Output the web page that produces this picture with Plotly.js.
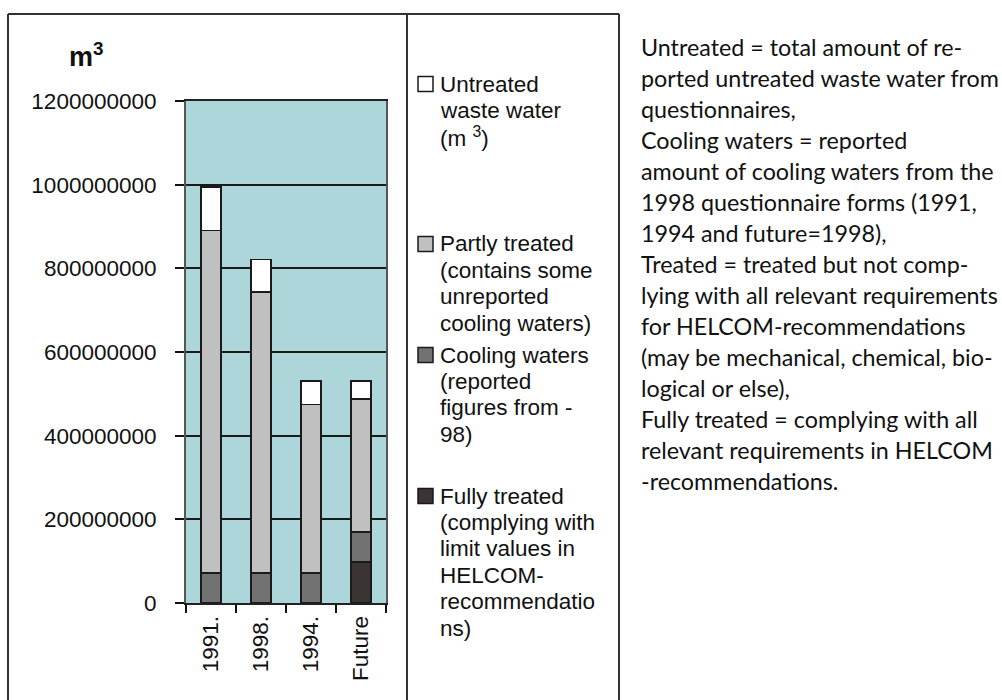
<!DOCTYPE html>
<html>
<head>
<meta charset="utf-8">
<script src="https://cdn.plot.ly/plotly-3.0.1.min.js"></script>
<style>
  html, body { margin: 0; padding: 0; background: #ffffff; }
  #chart { width: 1002px; height: 700px; }
</style>
</head>
<body>
<div id="chart"></div>
<script>
// ---------------- DATA ----------------
const categories = ['1991.', '1998.', '1994.', 'Future'];
const fullyTreated   = [0, 0, 0, 98000000];
const coolingWaters  = [72000000, 72000000, 72000000, 72000000];
const partlyTreated  = [819000000, 671000000, 403000000, 318000000];
const untreatedWater = [104000000, 78000000, 56000000, 43000000];

const yTickValues = [0, 200000000, 400000000, 600000000, 800000000, 1000000000, 1200000000];
const yAxisUnit = 'm<sup>3</sup>';

const seriesNames = [
  'Fully treated (complying with limit values in HELCOM-recommendations)',
  'Cooling waters (reported figures from -98)',
  'Partly treated (contains some unreported cooling waters)',
  'Untreated waste water (m3)'
];
const legendUntreated = ['Untreated', 'waste water', '(m <sup>3</sup>)'];
const legendPartly    = ['Partly treated', '(contains some', 'unreported', 'cooling waters)'];
const legendCooling   = ['Cooling waters', '(reported', 'figures from -', '98)'];
const legendFully     = ['Fully treated', '(complying with', 'limit values in', 'HELCOM-', 'recommendatio', 'ns)'];

const noteLines = [
  'Untreated = total amount of re-',
  'ported untreated waste water from',
  'questionnaires,',
  'Cooling waters = reported',
  'amount of cooling waters from the',
  '1998 questionnaire forms (1991,',
  '1994 and future=1998),',
  'Treated = treated but not comp-',
  'lying with all relevant requirements',
  'for HELCOM-recommendations',
  '(may be mechanical, chemical, bio-',
  'logical or else),',
  'Fully treated = complying with all',
  'relevant requirements in HELCOM',
  '-recommendations.'
];

// ---------------- STYLE ----------------
const colFully = '#3a3532', colCooling = '#727272', colPartly = '#c0c0c0', colUntreated = '#ffffff';
const outline = { color: '#1a1a1a', width: 1.5 };
const W = 1002, H = 700;
const PL = 186, PR = 386, PT = 101, PB = 603;   // plot area in pixels
const px = p => (p - PL) / (PR - PL);
const py = p => (PB - p) / (PB - PT);
const axisFont = { family: 'Arial, "Liberation Sans", sans-serif', size: 22.5, color: '#111' };

const traces = [
  { name: seriesNames[0], y: fullyTreated,   marker: { color: colFully, line: outline } },
  { name: seriesNames[1], y: coolingWaters,  marker: { color: colCooling, line: outline } },
  { name: seriesNames[2], y: partlyTreated,  marker: { color: colPartly, line: outline } },
  { name: seriesNames[3], y: untreatedWater, marker: { color: colUntreated, line: outline } }
].map(t => Object.assign({ type: 'bar', x: categories, hoverinfo: 'skip' }, t));

const annotations = [];
const shapes = [];

// y-unit title
annotations.push({ xref: 'paper', yref: 'paper', x: px(86), y: py(55), xanchor: 'center', yanchor: 'middle',
  showarrow: false, text: '<b>' + yAxisUnit + '</b>',
  font: { family: 'Arial, "Liberation Sans", sans-serif', size: 27, color: '#111' } });

// custom legend
const legendGroups = [
  { lines: legendUntreated, color: colUntreated, top: 84 },
  { lines: legendPartly,    color: colPartly,    top: 244 },
  { lines: legendCooling,   color: colCooling,   top: 355 },
  { lines: legendFully,     color: colFully,     top: 496 }
];
const lineStep = 26.4;
legendGroups.forEach(g => {
  shapes.push({ type: 'rect', xref: 'paper', yref: 'paper',
    x0: px(418), x1: px(433), y0: py(g.top - 7.5), y1: py(g.top + 7.5),
    fillcolor: g.color, line: { color: '#1a1a1a', width: 1.5 } });
  g.lines.forEach((ln, i) => {
    annotations.push({ xref: 'paper', yref: 'paper', x: px(438), y: py(g.top + i * lineStep),
      xanchor: 'left', yanchor: 'middle', showarrow: false, text: ln, font: axisFont });
  });
});

// notes text
noteLines.forEach((ln, i) => {
  annotations.push({ xref: 'paper', yref: 'paper', x: px(639), y: py(47 + i * 31),
    xanchor: 'left', yanchor: 'middle', showarrow: false, text: ln,
    font: { family: 'Lato, "Noto Sans", sans-serif', size: 23.3, color: '#111' } });
});

// frame lines
const frameColor = '#333';
[[8, 14, 619, 14], [8, 14, 8, 700], [407, 14, 407, 700], [619, 14, 619, 700]].forEach(s => {
  shapes.push({ type: 'line', xref: 'paper', yref: 'paper', x0: px(s[0]), y0: py(s[1]), x1: px(s[2]), y1: py(s[3]),
    line: { color: frameColor, width: 2 } });
});

const layout = {
  width: W, height: H,
  margin: { l: PL, r: W - PR, t: PT, b: H - PB, pad: 0 },
  paper_bgcolor: '#ffffff',
  plot_bgcolor: '#acd6d9',
  barmode: 'stack',
  bargap: 0.6,
  showlegend: false,
  xaxis: {
    type: 'category', tickson: 'boundaries', ticks: 'outside', ticklen: 8, tickwidth: 2, tickcolor: '#111',
    showline: true, linecolor: '#222', linewidth: 2, mirror: true,
    tickangle: -90, tickfont: axisFont, showgrid: false, ticklabelstandoff: 2,
    fixedrange: true
  },
  yaxis: {
    range: [0, 1200000000], tickvals: yTickValues, tickformat: 'd',
    ticks: 'outside', ticklen: 9, tickwidth: 2, tickcolor: '#111',
    showgrid: true, gridcolor: '#1a1a1a', gridwidth: 2, zeroline: false,
    showline: true, linecolor: '#555', linewidth: 2, mirror: true,
    tickfont: axisFont, ticklabelstandoff: 14, fixedrange: true
  },
  annotations: annotations,
  shapes: shapes
};

Plotly.newPlot('chart', traces, layout, { displayModeBar: false, staticPlot: true });
</script>
</body>
</html>
